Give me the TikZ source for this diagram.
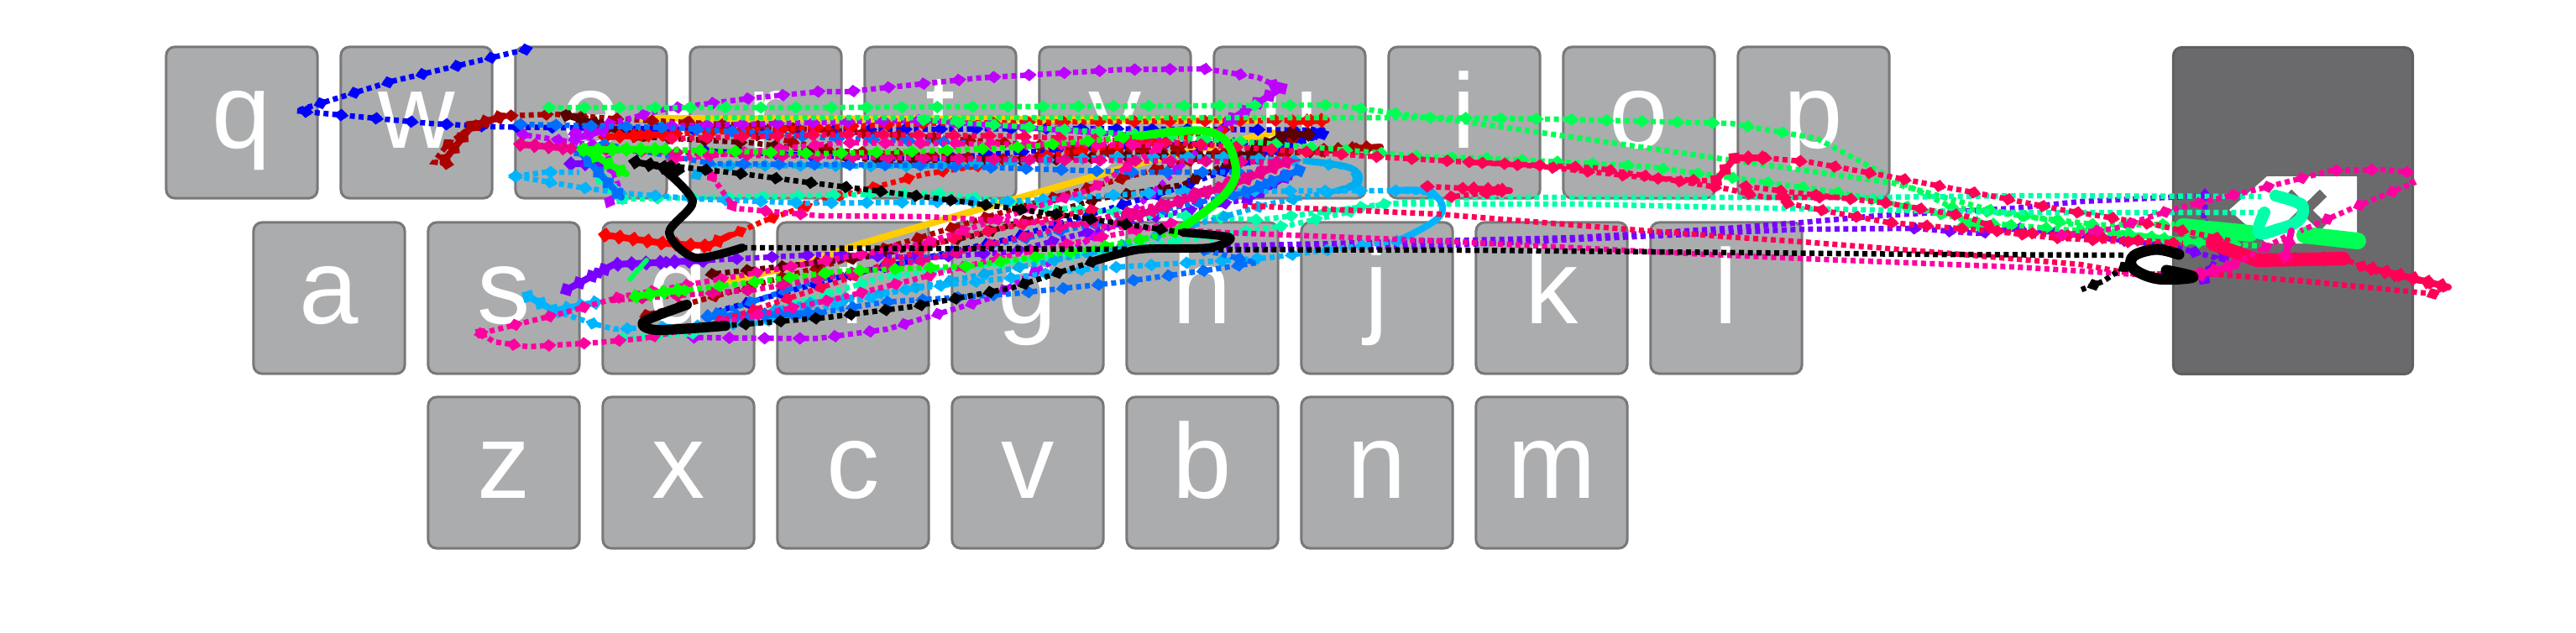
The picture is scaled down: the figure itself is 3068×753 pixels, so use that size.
\documentclass[tikz,border=0pt]{standalone}
\usepackage{fontspec}
\setmainfont{Liberation Sans}
\definecolor{keygray}{RGB}{171,172,174}
\definecolor{keyedge}{RGB}{120,120,122}
\definecolor{delgray}{RGB}{106,106,108}
\definecolor{tracedred}{RGB}{170,0,0}
\definecolor{tracemaroon}{RGB}{90,0,0}
\definecolor{tracegold}{RGB}{255,205,0}
\definecolor{tracepurple}{RGB}{190,0,255}
\definecolor{traceviolet}{RGB}{120,0,255}
\definecolor{tracegreen}{RGB}{0,255,0}
\definecolor{tracespring}{RGB}{0,255,85}
\definecolor{traceaqua}{RGB}{0,255,170}
\definecolor{tracesky}{RGB}{0,180,255}
\definecolor{traceazure}{RGB}{0,110,255}
\definecolor{tracepink}{RGB}{255,0,160}
\definecolor{tracerose}{RGB}{255,0,85}
\usetikzlibrary{decorations.markings}

\begin{document}
\begin{tikzpicture}[
          x=0.01cm, y=-0.01cm,
          keycap/.style={
              draw=keyedge,
              fill=keygray,
              rounded corners=0.1cm,
              line width=0.03cm,
              minimum width=1.8cm,
              minimum height=1.8cm,
              inner sep=0pt,
              text=white,
              text height=1.0cm,
              text depth=0.4cm,
              font=\fontsize{36}{36}\selectfont
            },
          delkey/.style={
              draw=delgray!90!black,
              fill=delgray,
              rounded corners=0.1cm,
              line width=0.03cm,
              minimum width=2.85cm,
              minimum height=3.89cm
            },
          sweep/.style={
              line width=0.065cm,
              dash pattern=on 0.06cm off 0.045cm
            },
          trace/.style={
              sweep,
              postaction={decorate},
              decoration={markings, mark=between positions 0 and 1 step 4.2mm with {
                  \fill (-9,0) -- (0,-7.5) -- (9,0) -- (0,7.5) -- cycle;}}
            },
          slow/.style={line width=0.12cm, line join=round, line cap=round},
          beaded/.style={
              line width=0.08cm, line join=round, line cap=round,
              postaction={decorate},
              decoration={markings, mark=between positions 0 and 1 step 1.7mm with {
                  \fill (-9,0) -- (0,-9) -- (9,0) -- (0,9) -- cycle;}}
            }
        ]
        \useasboundingbox (0,0) rectangle (3068,753);

        \node[keycap] (keyq) at (288,146) {q};
        \node[keycap] (keyw) at (496,146) {w};
        \node[keycap] (keye) at (704,146) {e};
        \node[keycap] (keyr) at (912,146) {r};
        \node[keycap] (keyt) at (1120,146) {t};
        \node[keycap] (keyy) at (1328,146) {y};
        \node[keycap] (keyu) at (1536,146) {u};
        \node[keycap] (keyi) at (1744,146) {i};
        \node[keycap] (keyo) at (1952,146) {o};
        \node[keycap] (keyp) at (2160,146) {p};

        \node[keycap] (keya) at (392,355) {a};
        \node[keycap] (keys) at (600,355) {s};
        \node[keycap] (keyd) at (808,355) {d};
        \node[keycap] (keyf) at (1016,355) {f};
        \node[keycap] (keyg) at (1224,355) {g};
        \node[keycap] (keyh) at (1432,355) {h};
        \node[keycap] (keyj) at (1640,355) {j};
        \node[keycap] (keyk) at (1848,355) {k};
        \node[keycap] (keyl) at (2056,355) {l};

        \node[keycap] (keyz) at (600,563) {z};
        \node[keycap] (keyx) at (808,563) {x};
        \node[keycap] (keyc) at (1016,563) {c};
        \node[keycap] (keyv) at (1224,563) {v};
        \node[keycap] (keyb) at (1432,563) {b};
        \node[keycap] (keyn) at (1640,563) {n};
        \node[keycap] (keym) at (1848,563) {m};

        \node[delkey] (keydel) at (2731,251) {};
        \fill[white] (2700,210) -- (2807,210) -- (2807,290) -- (2700,290) -- (2655,250) -- cycle;
        \draw[delgray, line width=0.12cm] (2725,230) -- (2767,271);
        \draw[delgray, line width=0.12cm] (2767,230) -- (2725,271);

        % traces
        \draw[slow, tracegold, line width=0.08cm] (1516,158) -- (1373,190) -- (1174,247) -- (1026,290) -- (945,317) -- (858,337);
        \draw[slow, tracegold, line width=0.08cm] (1500,143) -- (760,141);

        \draw[trace, blue] plot coordinates {(626,59) (466,97) (353,132) (512,147) (588,151) (900,155) (1250,153) (1575,155)};
        \draw[beaded, blue] (1470,195) -- (1575,155);
        \draw[trace, blue] plot coordinates {(1575,160) (1400,225) (1200,285) (1000,330) (850,372)};
        \draw[trace, blue] plot coordinates {(840,180) (1100,190) (1300,175) (1500,170)};

        \draw[trace, tracedred] plot coordinates {(532,195) (517,193) (532,173) (560,152) (603,138) (660,136) (741,142) (900,150) (1100,163) (1300,178) (1500,185) (1644,175)};
        \draw[beaded, tracedred] (1560,180) -- (1644,175);
        \draw[beaded, tracedred] (530,190) -- (562,150) -- (600,138);
        \draw[trace, tracedred] plot coordinates {(1540,165) (1400,195) (1220,245) (1040,300) (880,345) (760,378)};
        \draw[trace, tracedred] plot coordinates {(820,145) (1000,180) (1200,190) (1440,172)};

        \draw[trace, tracemaroon] plot coordinates {(675,137) (767,163) (894,170) (976,180) (1052,193) (1256,190) (1409,183) (1480,187) (1541,157) (1409,220) (1307,237) (1164,280) (1026,307) (843,327)};
        \draw[beaded, tracemaroon] (675,137) -- (767,165);
        \draw[beaded, tracemaroon] (1480,187) -- (1530,160) -- (1560,160);

        \draw[trace, red] plot coordinates {(721,163) (900,155) (1100,147) (1300,145) (1580,143)};
        \draw[beaded, red] (1540,145) -- (1580,143);
        \draw[beaded, red] (721,163) -- (790,160);
        \draw[beaded, red] (721,280) -- (792,290) -- (843,293) -- (870,280);
        \draw[trace, red] plot coordinates {(843,293) (910,263) (976,240) (1026,227) (1103,207) (1236,187) (1470,153)};

        \draw[trace, tracepurple] plot coordinates {(685,158) (792,130) (894,117) (976,109) (1011,109) (1164,93) (1333,83) (1435,82) (1498,92) (1526,105) (1465,143) (1340,260) (1180,355) (1057,392) (975,403) (925,403) (823,402)};
        \draw[beaded, tracepurple] (1526,105) -- (1465,143);
        \draw[beaded, tracepurple] (685,165) -- (720,155);
        \draw[trace, tracepurple] plot coordinates {(726,240) (736,220) (720,175) (620,160)};
        \draw[trace, tracepurple] plot coordinates {(800,150) (1100,143) (1400,165)};

        \draw[trace, traceviolet] plot coordinates {(675,345) (731,315) (843,310) (980,303) (1103,307) (1205,300) (1340,265) (1486,237) (1537,207)};
        \draw[beaded, traceviolet] (675,345) -- (731,315) -- (843,310);
        \draw[beaded, traceviolet] (1486,237) -- (1537,207);
        \draw[beaded, traceviolet] (680,195) -- (715,195);
        \draw[sweep, traceviolet] plot coordinates {(1460,293) (1704,287) (1879,283) (2057,272) (2146,265) (2236,257) (2400,248) (2478,240) (2626,233)};
        \draw[trace, traceviolet] plot coordinates {(2626,233) (2626,247) (2624,262) (2638,273) (2637,288) (2653,313)};
        \draw[sweep, traceviolet] plot coordinates {(1450,298) (1704,293) (1879,285) (2057,277) (2146,273) (2280,272)};
        \draw[trace, traceviolet] plot coordinates {(2280,272) (2354,278) (2405,272) (2456,278) (2586,293) (2639,307) (2626,337)};
        \draw[beaded, traceviolet] (2625,332) -- (2630,325);

        \draw[trace, tracespring] plot coordinates {(654,128) (1000,128) (1588,125) (1700,140) (1856,142) (2062,147) (2164,165)};
        \draw[sweep, tracespring] plot coordinates {(2164,165) (2249,210) (2325,247)};
        \draw[trace, tracespring] plot coordinates {(2325,247) (2500,268) (2590,267)};
        \draw[sweep, tracespring] plot coordinates {(840,140) (1200,140) (1700,140) (1745,145) (1905,168) (2057,190) (2254,218) (2370,250)};
        \draw[trace, tracespring] plot coordinates {(2370,250) (2532,278) (2612,288) (2693,293)};
        \draw[trace, tracespring] plot coordinates {(1100,143) (1500,170) (1700,187) (1762,188) (1959,198) (2026,207) (2088,215) (2195,230) (2303,253) (2356,265) (2577,283) (2657,293)};
        \draw[beaded, tracespring] (2340,268) -- (2375,268);
        \draw[beaded, tracespring, line width=0.2cm] (2600,270) -- (2680,278);
        \draw[beaded, tracespring, line width=0.2cm] (2745,280) -- (2808,287);
        \draw[slow, tracespring, line width=0.06cm] (750,333) -- (770,310);

        \draw[trace, traceaqua] plot coordinates {(741,237) (960,233) (1118,230) (1282,250) (1500,262) (1649,243)};
        \draw[sweep, traceaqua] plot coordinates {(1649,243) (1758,235) (2236,235) (2400,233) (2693,234)};
        \draw[beaded, traceaqua] (716,213) -- (741,237);
        \draw[slow, traceaqua, line width=0.14cm] plot[smooth, tension=.7] coordinates {(2710,233) (2733,240) (2743,247) (2737,263) (2713,273) (2690,277) (2697,253)};
        \draw[trace, traceaqua] plot coordinates {(741,403) (828,397) (1052,330) (1307,300) (1537,268) (1649,243)};
        \draw[sweep, traceaqua] plot coordinates {(1649,243) (1722,243) (1879,243) (2057,247) (2400,253) (2697,253)};

        \draw[trace, cyan] plot coordinates {(830,208) (850,197) (1100,198) (1328,187) (1460,187) (1557,192) (1608,200) (1618,217) (1593,227) (1511,243) (1440,263) (1307,300) (1078,345) (950,363) (850,385)};
        \draw[slow, cyan, line width=0.08cm] plot[smooth, tension=.7] coordinates {(1557,192) (1608,200) (1618,217) (1593,227)};

        \draw[trace, tracesky] plot coordinates {(614,210) (690,223) (741,230) (833,237) (960,242) (1200,240) (1400,228) (1664,227) (1705,230)};
        \draw[slow, tracesky, line width=0.08cm] plot[smooth, tension=.7] coordinates {(1664,227) (1705,230) (1715,257) (1664,287)};
        \draw[trace, tracesky] plot coordinates {(1664,287) (1511,307) (1300,320) (1078,345) (900,385) (731,392) (705,385) (660,370)};
        \draw[beaded, tracesky] (629,353) -- (660,370) -- (711,360);
        \draw[trace, tracesky] plot coordinates {(614,210) (650,205) (690,205)};

        \draw[beaded, traceazure] (1547,203) -- (1481,230);
        \draw[trace, traceazure] plot coordinates {(1547,203) (1481,230) (1384,250) (1205,287) (975,333) (843,377)};
        \draw[beaded, traceazure] (843,377) -- (976,373);
        \draw[trace, traceazure] plot coordinates {(1435,298) (1496,313) (1430,323) (1327,337) (1205,350) (1052,360) (950,377)};
        \draw[trace, traceazure] plot coordinates {(720,172) (850,195) (1100,197) (1350,205) (1500,205)};
        \draw[beaded, traceazure] (690,180) -- (740,235);
        \draw[trace, traceazure] plot coordinates {(620,148) (800,152) (1000,165) (1150,170)};

        \draw[trace, tracerose] plot coordinates {(800,165) (1000,160) (1200,162) (1400,170) (1644,187) (1834,198) (1963,212) (2026,215) (2044,215)};
        \draw[beaded, tracerose] (2044,215) -- (2066,188) -- (2102,188);
        \draw[trace, tracerose] plot coordinates {(2102,188) (2155,193) (2249,210) (2370,233) (2456,250) (2568,268) (2657,287)};
        \draw[trace, tracerose] plot coordinates {(1750,193) (1900,200) (2057,225) (2102,235) (2191,235)};
        \draw[beaded, tracerose] (1755,225) -- (1798,227);
        \draw[trace, tracerose] plot coordinates {(1700,222) (1798,227) (1722,235)};
        \draw[trace, tracerose] plot coordinates {(2079,222) (2142,230) (2249,242) (2343,258) (2389,277) (2443,283) (2568,290)};
        \draw[sweep, tracerose] plot coordinates {(1480,245) (1600,250) (1713,255) (1812,263) (1937,273) (2057,282) (2146,288) (2300,300) (2478,315) (2545,327) (2617,325) (2746,335) (2898,350)};
        \draw[trace, tracerose] plot coordinates {(2898,350) (2916,342) (2827,323) (2791,308)};
        \draw[trace, tracerose] plot coordinates {(2129,242) (2178,252) (2249,265) (2343,273) (2456,280) (2600,290)};
        \draw[beaded, tracerose, line width=0.16cm] (2635,290) -- (2688,310) -- (2791,308);
        \draw[beaded, tracerose] (2825,320) -- (2860,328) -- (2916,342);
        \draw[trace, tracerose] plot coordinates {(1300,250) (1130,285) (1000,335) (850,385)};

        \draw[trace, tracepink] plot coordinates {(573,397) (670,373) (741,353) (900,325) (1100,290) (1300,225) (1384,173) (1000,170) (800,190)};
        \draw[trace, tracepink] plot coordinates {(573,397) (588,407) (629,413) (711,408) (767,403) (1000,355) (1200,305) (1400,265)};
        \draw[trace, tracepink] plot coordinates {(848,210) (864,233) (874,248) (976,257)};
        \draw[sweep, tracepink] plot coordinates {(976,257) (1103,258) (1460,277) (1715,287) (2012,302) (2146,308) (2400,318) (2545,327) (2621,325)};
        \draw[trace, tracepink] plot coordinates {(2621,325) (2657,317) (2729,278)};
        \draw[beaded, tracepink] (2621,327) -- (2657,317);
        \draw[beaded, tracepink] (2722,305) -- (2729,275);
        \draw[trace, tracepink] plot coordinates {(2456,280) (2519,272) (2586,250) (2639,237) (2691,225) (2742,212) (2778,203) (2838,202) (2867,205) (2874,218) (2804,247) (2740,275)};

        \draw[trace, magenta] plot coordinates {(680,177) (900,185) (1200,190) (1532,193) (1384,243) (1100,310) (900,345) (726,358)};
        \draw[beaded, magenta] (620,172) -- (680,177);
        \draw[beaded, magenta] (1532,193) -- (1480,215) -- (1330,265);

        \draw[trace, tracegreen] plot coordinates {(792,178) (976,183) (1103,180) (1220,175) (1358,162)};
        \draw[beaded, tracegreen] (695,178) -- (792,178);
        \draw[beaded, tracegreen] (695,178) -- (746,207);
        \draw[slow, tracegreen, line width=0.1cm] plot[smooth, tension=.7] coordinates {(1358,162) (1440,157) (1470,190) (1460,230) (1399,277)};
        \draw[trace, tracegreen] plot coordinates {(1399,277) (1297,297) (1154,317) (1001,323) (945,330) (757,353)};
        \draw[beaded, tracegreen] (757,353) -- (810,345);

        \draw[trace, black] plot coordinates {(757,193) (884,207) (960,217) (1042,227) (1144,240) (1271,257) (1409,277)};
        \draw[beaded, black] (757,193) -- (810,203);
        \draw[slow, black, line width=0.1cm] plot[smooth, tension=.5] coordinates {(1409,277) (1465,283) (1440,295) (1358,297) (1300,312)};
        \draw[trace, black] plot coordinates {(1300,312) (1205,343) (1088,365) (986,378) (864,388)};
        \draw[slow, black, line width=0.12cm] plot[smooth, tension=.5] coordinates {(864,388) (782,393) (767,383) (818,363)};
        \draw[slow, black, line width=0.1cm] plot[smooth, tension=.5] coordinates {(792,203) (825,240) (797,277) (828,307) (884,295)};
        \draw[sweep, black] plot coordinates {(884,295) (1358,297) (1750,298) (2300,303) (2532,304)};
        \draw[slow, black, line width=0.13cm] plot[smooth, tension=.6] coordinates {(2595,303) (2568,297) (2541,305) (2541,320) (2570,332) (2612,330) (2580,322)};
        \draw[trace, black] plot coordinates {(2530,318) (2505,335) (2479,345)};
      \end{tikzpicture}
\end{document}
